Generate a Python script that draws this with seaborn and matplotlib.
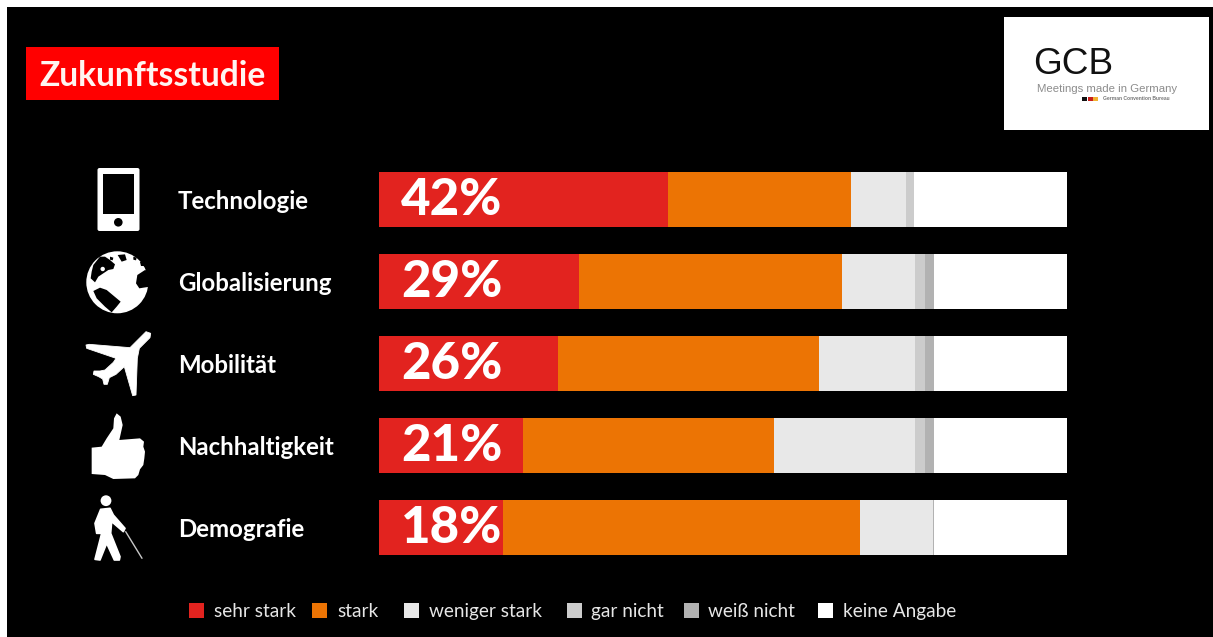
import matplotlib
matplotlib.use("Agg")
import matplotlib.pyplot as plt
from matplotlib.patches import Circle, FancyBboxPatch, Polygon, Rectangle
import pandas as pd
import seaborn as sns

# Survey results in percent of respondents
themen = ["Technologie", "Globalisierung", "Mobilität", "Nachhaltigkeit", "Demografie"]
stufen = ["sehr stark", "stark", "weniger stark", "gar nicht", "weiß nicht", "keine Angabe"]
sehr_stark = [42, 29, 26, 21, 18]
stark = [26.6, 38.3, 38, 36.4, 51.9]
weniger_stark = [8, 10.6, 13.9, 20.5, 10.6]
gar_nicht = [1.2, 1.4, 1.4, 1.4, 0]
weiss_nicht = [0, 1.3, 1.3, 1.3, 0.15]
keine_angabe = [22.2, 19.4, 19.4, 19.4, 19.35]
farben = ["#E2231F", "#EC7404", "#E8E8E8", "#CCCCCC", "#B2B2B2", "#FFFFFF"]

W, H = 1213, 637
sns.set_theme(style="white")
plt.rcParams["font.family"] = ["Lato", "DejaVu Sans"]
fig = plt.figure(figsize=(W / 100, H / 100), dpi=100, facecolor="white")


def px(v):
    """Pixel length to points at the figure's 100 dpi."""
    return v * 72 / 100


# Backdrop layer in pixel coordinates: panel, title tag, logo, icons, key
bg = fig.add_axes([0, 0, 1, 1], zorder=0)
bg.set_xlim(0, W)
bg.set_ylim(H, 0)
bg.axis("off")
bg.add_patch(Rectangle((7, 7), W - 7, H - 7, fc="black", ec="none"))

# Title tag
bg.add_patch(Rectangle((26, 47), 253, 53, fc="#FF0000", ec="none"))
bg.text(39, 76, "Zukunftsstudie", color="#FFF4F0", fontsize=px(33.6), fontweight="bold",
        family="Lato", va="center", ha="left")

# Logo box
bg.add_patch(Rectangle((1004, 17), 205, 113, fc="white", ec="none"))
bg.text(1033, 64, "GCB", color="#111111", fontsize=px(37), family="Liberation Sans",
        va="center", ha="left")
bg.text(1037, 89, "Meetings made in Germany", color="#8C8C8C", fontsize=px(11.4),
        family="Liberation Sans", va="center", ha="left")
for x0, c in zip((1082, 1087.5, 1093), ("#111111", "#C8201C", "#F2B233")):
    bg.add_patch(Rectangle((x0, 97), 5, 4, fc=c, ec="none"))
bg.text(1103, 99, "German Convention Bureau", color="#777777", fontsize=px(5),
        fontweight="bold", family="Liberation Sans", va="center", ha="left")


def icon(points, ox, oy, color="white", stroke=0):
    """Add a polygon given in 3x-scaled coordinates around an origin."""
    bg.add_patch(Polygon([(ox + x / 3, oy + y / 3) for x, y in points],
                         closed=True, fc=color, ec=color if stroke else "none",
                         lw=stroke, joinstyle="round"))


# Phone
bg.add_patch(FancyBboxPatch((98.5, 169), 40, 61, boxstyle="round,pad=1,rounding_size=2",
                            fc="white", ec="none"))
bg.add_patch(Rectangle((103, 173.5), 31, 40, fc="black", ec="none"))
bg.add_patch(Circle((118.3, 222.3), 4.3, fc="black", ec="none"))

# Globe
bg.add_patch(Circle((117.3, 282.3), 31, fc="white", ec="none"))
for shape in (
    [(40, 60), (60, 35), (75, 35), (90, 45), (105, 58), (100, 72), (85, 75), (70, 85),
     (55, 95), (45, 112), (32, 100), (35, 80)],
    [(113, 30), (135, 28), (140, 45), (125, 50)],
    [(172, 90), (195, 75), (210, 80), (210, 125), (190, 128), (178, 130), (168, 115)],
    [(40, 138), (60, 128), (80, 135), (122, 170), (110, 185), (95, 202), (75, 185), (50, 160)],
    [(90, 35), (100, 38), (98, 46), (90, 44)],
    [(160, 35), (170, 38), (168, 46), (160, 44)],
    [(180, 50), (195, 50), (195, 62), (182, 62)],
):
    icon(shape, 80, 245, "black")
bg.add_patch(Circle((102.7, 269), 2.2, fc="white", ec="none"))

# Plane
icon([(198, 20), (212, 25), (210, 38), (178, 70), (172, 100), (168, 210), (158, 212),
      (133, 125), (108, 148), (88, 158), (82, 178), (72, 178), (68, 162), (56, 155),
      (40, 148), (42, 138), (60, 138), (75, 135), (100, 112), (108, 100), (20, 70),
      (18, 60), (28, 58), (150, 68), (180, 38)], 80, 325, stroke=0.6)

# Thumb
icon([(35, 113), (65, 110), (80, 85), (100, 55), (102, 25), (110, 10), (122, 20), (128, 45),
      (118, 90), (180, 85), (192, 95), (190, 110), (195, 125), (193, 145), (190, 165),
      (180, 178), (175, 195), (165, 205), (100, 207), (75, 195), (35, 192)], 80, 410)

# Walker with cane
bg.add_patch(Circle((106, 500.7), 5.4, fc="white", ec="none"))
icon([(62, 58), (90, 55), (100, 75), (135, 115), (130, 125), (95, 95), (92, 130), (120, 200),
      (118, 210), (103, 210), (80, 160), (60, 210), (45, 208), (65, 130), (50, 130),
      (45, 100)], 80, 490, stroke=1.2)
bg.plot([125.7, 142], [531.7, 558.3], color="#C8C8C8", lw=1, solid_capstyle="round")

# Colour key
key_box_x = [189, 312, 404, 567, 684, 818]
key_text_x = [214, 337, 429, 591, 708, 843]
for name, c, bx, tx in zip(stufen, farben, key_box_x, key_text_x):
    bg.add_patch(Rectangle((bx, 603), 15, 15, fc=c, ec="none"))
    bg.text(tx, 617, name, color="#E6E6E6", fontsize=px(19), family="Lato",
            va="baseline", ha="left")

# Stacked bars; histplot piles the hue levels from last to first
ax = fig.add_axes([379 / W, 1 - 568.5 / H, 688 / W, 410 / H], zorder=1)
ax.patch.set_alpha(0)

spalten = [sehr_stark, stark, weniger_stark, gar_nicht, weiss_nicht, keine_angabe]
df = pd.DataFrame(
    [{"Thema": t, "Bewertung": s, "Anteil": v}
     for s, werte in zip(stufen, spalten) for t, v in zip(themen, werte)]
)
df["Pos"] = df["Thema"].map({t: i for i, t in enumerate(themen)})

sns.histplot(data=df, y="Pos", hue="Bewertung", weights="Anteil", hue_order=stufen[::-1],
             palette=dict(zip(stufen, farben)), multiple="stack", discrete=True,
             shrink=55 / 82, alpha=1, linewidth=0, legend=False, ax=ax)

ax.set_xlim(0, 100)
ax.set_ylim(4.5, -0.5)
ax.set_xticks([])
ax.set_xlabel("")
ax.set_ylabel("")
ax.set_yticks(range(len(themen)))
ax.set_yticklabels(themen, ha="left", color="white", fontsize=px(24),
                   fontweight="bold", family="Lato")
ax.tick_params(axis="y", length=0, pad=px(201))
sns.despine(ax=ax, left=True, bottom=True)

# Share of "sehr stark" printed inside the first segment
for i, v in enumerate(sehr_stark):
    ax.annotate(f"{v}%", xy=(0, i), xytext=(px(22), px(-15.5)), textcoords="offset points",
                color="white", fontsize=px(51), fontweight="black", family="Lato",
                va="baseline", ha="left")

fig.savefig("out.png", dpi=100, facecolor=fig.get_facecolor())
